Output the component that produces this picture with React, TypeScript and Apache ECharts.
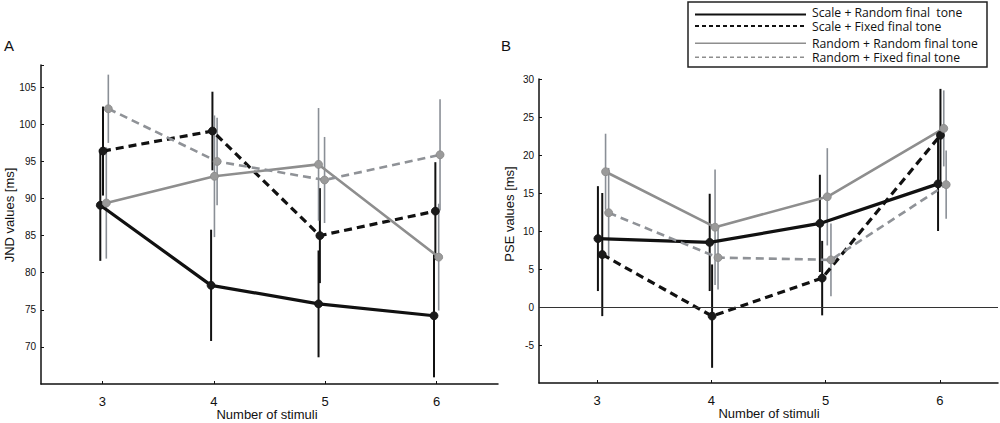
import React, { useEffect, useRef } from "react";
import * as echarts from "echarts";

// ---------- data ----------
const SERIES_NAMES = [
  "Scale + Random final  tone",
  "Scale + Fixed final tone",
  "Random + Random final tone",
  "Random + Fixed final tone",
];
const X_TICKS = [3, 4, 5, 6];
const A_Y_TICKS = [70, 75, 80, 85, 90, 95, 100, 105];
const B_Y_TICKS = [-5, 0, 5, 10, 15, 20, 25, 30];

// Panel A (JND)
const A_X_SCALE_RANDOM = [2.982, 3.976, 4.94, 5.976];
const A_Y_SCALE_RANDOM = [89.1, 78.3, 75.8, 74.2];
const A_E_SCALE_RANDOM = [7.5, 7.5, 7.2, 8.3];
const A_X_SCALE_FIXED = [3.006, 3.988, 4.952, 5.988];
const A_Y_SCALE_FIXED = [96.4, 99.1, 85.0, 88.3];
const A_E_SCALE_FIXED = [6.0, 5.3, 6.4, 6.6];
const A_X_RANDOM_RANDOM = [3.036, 4.006, 4.94, 6.018];
const A_Y_RANDOM_RANDOM = [89.4, 93.0, 94.6, 82.1];
const A_E_RANDOM_RANDOM = [7.5, 8.2, 7.6, 7.2];
const A_X_RANDOM_FIXED = [3.054, 4.03, 4.994, 6.03];
const A_Y_RANDOM_FIXED = [102.1, 95.0, 92.5, 95.9];
const A_E_RANDOM_FIXED = [4.6, 5.9, 5.8, 7.5];

// Panel B (PSE)
const B_X_SCALE_RANDOM = [3.006, 3.985, 4.95, 5.985];
const B_Y_SCALE_RANDOM = [9.0, 8.5, 11.0, 16.2];
const B_E_SCALE_RANDOM = [6.9, 6.4, 6.4, 6.2];
const B_X_SCALE_FIXED = [3.044, 4.006, 4.97, 6.006];
const B_Y_SCALE_FIXED = [6.9, -1.2, 3.8, 22.6];
const B_E_SCALE_FIXED = [8.1, 6.8, 4.9, 6.1];
const B_X_RANDOM_RANDOM = [3.073, 4.032, 5.015, 6.035];
const B_Y_RANDOM_RANDOM = [17.8, 10.5, 14.5, 23.5];
const B_E_RANDOM_RANDOM = [5.0, 7.6, 6.4, 5.0];
const B_X_RANDOM_FIXED = [3.1, 4.058, 5.047, 6.056];
const B_Y_RANDOM_FIXED = [12.4, 6.5, 6.2, 16.1];
const B_E_RANDOM_FIXED = [5.9, 4.2, 4.8, 4.5];

// ---------- styles ----------
const LINE_COLORS = ["#111111", "#111111", "#8e8e8e", "#8f9297"];
const MARKER_COLORS = ["#1a1a1a", "#1a1a1a", "#9a9a9a", "#9a9a9a"];
const BAR_COLORS = ["#111111", "#111111", "#8a8f96", "#8a8f96"];
const BAR_WIDTHS = [2, 2, 1.6, 1.6];
const DASHED = [false, true, false, true];

const FONT = "'Liberation Sans', Arial, sans-serif";

export default function App() {
  const ref = useRef<HTMLDivElement>(null);

  useEffect(() => {
    if (!ref.current) return;
    const chart = echarts.init(ref.current, null, { renderer: "svg" });

    const panels = [
      {
        xs: [A_X_SCALE_RANDOM, A_X_SCALE_FIXED, A_X_RANDOM_RANDOM, A_X_RANDOM_FIXED],
        ys: [A_Y_SCALE_RANDOM, A_Y_SCALE_FIXED, A_Y_RANDOM_RANDOM, A_Y_RANDOM_FIXED],
        es: [A_E_SCALE_RANDOM, A_E_SCALE_FIXED, A_E_RANDOM_RANDOM, A_E_RANDOM_FIXED],
      },
      {
        xs: [B_X_SCALE_RANDOM, B_X_SCALE_FIXED, B_X_RANDOM_RANDOM, B_X_RANDOM_FIXED],
        ys: [B_Y_SCALE_RANDOM, B_Y_SCALE_FIXED, B_Y_RANDOM_RANDOM, B_Y_RANDOM_FIXED],
        es: [B_E_SCALE_RANDOM, B_E_SCALE_FIXED, B_E_RANDOM_RANDOM, B_E_RANDOM_FIXED],
      },
    ];

    const series: any[] = [];
    panels.forEach((p, pi) => {
      for (let s = 0; s < 4; s++) {
        const barColor = BAR_COLORS[s];
        const barWidth = BAR_WIDTHS[s];
        series.push({
          type: "custom",
          name: SERIES_NAMES[s] + " err",
          xAxisIndex: pi,
          yAxisIndex: pi,
          z: 2,
          silent: true,
          encode: { x: 0, y: [1, 2] },
          data: p.xs[s].map((x, i) => [x, p.ys[s][i] - p.es[s][i], p.ys[s][i] + p.es[s][i]]),
          renderItem: (params: any, api: any) => {
            const x = api.value(0);
            const a = api.coord([x, api.value(1)]);
            const b = api.coord([x, api.value(2)]);
            return {
              type: "line",
              shape: { x1: a[0], y1: a[1], x2: b[0], y2: b[1] },
              style: { stroke: barColor, lineWidth: barWidth },
            };
          },
        });
      }
      for (let s = 0; s < 4; s++) {
        const ser: any = {
          type: "line",
          name: SERIES_NAMES[s],
          xAxisIndex: pi,
          yAxisIndex: pi,
          z: 3,
          data: p.xs[s].map((x, i) => [x, p.ys[s][i]]),
          symbol: "circle",
          symbolSize: 8,
          lineStyle: {
            color: LINE_COLORS[s],
            width: s < 2 ? 3.2 : 2.6,
            type: DASHED[s] ? [8, 5] : "solid",
          },
          itemStyle: { color: MARKER_COLORS[s], borderColor: s < 2 ? "#111" : "#888", borderWidth: 0.8 },
        };
        if (pi === 1 && s === 0) {
          ser.markLine = {
            silent: true,
            symbol: "none",
            label: { show: false },
            lineStyle: { color: "#333", width: 1, type: "solid" },
            data: [{ yAxis: 0 }],
          };
        }
        series.push(ser);
      }
    });

    const axisLine = { show: true, onZero: false, lineStyle: { color: "#111", width: 1.5 } };

    const xAxisBase = (min: number, max: number, gi: number) => ({
      type: "value",
      gridIndex: gi,
      min,
      max,
      axisLine,
      axisTick: { show: true, inside: true, length: 3, customValues: X_TICKS, lineStyle: { color: "#111", width: 1 } },
      axisLabel: { customValues: X_TICKS, fontSize: 13, color: "#111", fontFamily: FONT, margin: 11 },
      splitLine: { show: false },
    });

    const yAxisBase = (min: number, max: number, gi: number, ticks: number[]) => ({
      type: "value",
      gridIndex: gi,
      min,
      max,
      axisLine,
      axisTick: { show: true, inside: true, length: 3, customValues: [...ticks, max], lineStyle: { color: "#111", width: 1 } },
      axisLabel: { customValues: ticks, fontSize: 10, color: "#111", fontFamily: FONT, margin: 5 },
      splitLine: { show: false },
    });

    const legendLineRows = [14.5, 26, 43.3, 57.3];
    const legendGraphics: any[] = [
      {
        type: "rect",
        shape: { x: 688, y: 2, width: 299, height: 65 },
        style: { fill: "#fff", stroke: "#222", lineWidth: 1.5 },
        z: 10,
      },
    ];
    SERIES_NAMES.forEach((name, s) => {
      legendGraphics.push({
        type: "line",
        shape: { x1: 695, y1: legendLineRows[s], x2: 806, y2: legendLineRows[s] },
        style: {
          stroke: s < 2 ? "#111" : "#8e8e8e",
          lineWidth: s < 2 ? 2 : 1.5,
          lineDash: DASHED[s] ? [4, 3] : null,
        },
        z: 11,
      });
    });
    // two stacked two-line labels, wrapped so each pair is one text block
    [
      [0, 1, 19.5, 14],
      [2, 3, 50.3, 14.5],
    ].forEach(([a, b, cy, lh]) => {
      legendGraphics.push({
        type: "text",
        x: 812,
        y: cy,
        style: {
          text: SERIES_NAMES[a] + "\n" + SERIES_NAMES[b],
          fill: "#111",
          fontSize: 12.2,
          fontFamily: "'Open Sans', sans-serif",
          lineHeight: lh,
          verticalAlign: "middle",
          align: "left",
        },
        z: 11,
      });
    });

    const option: any = {
      animation: false,
      backgroundColor: "#fff",
      grid: [
        { left: 41, top: 65, width: 457, height: 319 },
        { left: 539, top: 79, width: 459, height: 304 },
      ],
      xAxis: [xAxisBase(2.45, 6.55, 0), xAxisBase(2.49, 6.51, 1)],
      yAxis: [yAxisBase(65, 108, 0, A_Y_TICKS), yAxisBase(-10, 30, 1, B_Y_TICKS)],
      series,
      graphic: [
        { type: "text", x: 4, y: 38, style: { text: "A", font: `15px ${FONT}`, fill: "#111" } },
        { type: "text", x: 501, y: 38, style: { text: "B", font: `15px ${FONT}`, fill: "#111" } },
        {
          type: "text",
          x: 9,
          y: 215,
          rotation: Math.PI / 2,
          style: { text: "JND values [ms]", font: `13px ${FONT}`, fill: "#111", textAlign: "center", verticalAlign: "middle" },
        },
        {
          type: "text",
          x: 509,
          y: 214,
          rotation: Math.PI / 2,
          style: { text: "PSE values [ms]", font: `13px ${FONT}`, fill: "#111", textAlign: "center", verticalAlign: "middle" },
        },
        {
          type: "text",
          x: 267,
          y: 414,
          style: { text: "Number of stimuli", font: `13px ${FONT}`, fill: "#111", textAlign: "center", verticalAlign: "middle" },
        },
        {
          type: "text",
          x: 769,
          y: 413,
          style: { text: "Number of stimuli", font: `13px ${FONT}`, fill: "#111", textAlign: "center", verticalAlign: "middle" },
        },
        ...legendGraphics,
      ],
    };

    chart.setOption(option);
    return () => chart.dispose();
  }, []);

  return (
    <div
      ref={ref}
      style={{ position: "fixed", left: 0, top: 0, width: 1000, height: 423, background: "#fff" }}
    />
  );
}
